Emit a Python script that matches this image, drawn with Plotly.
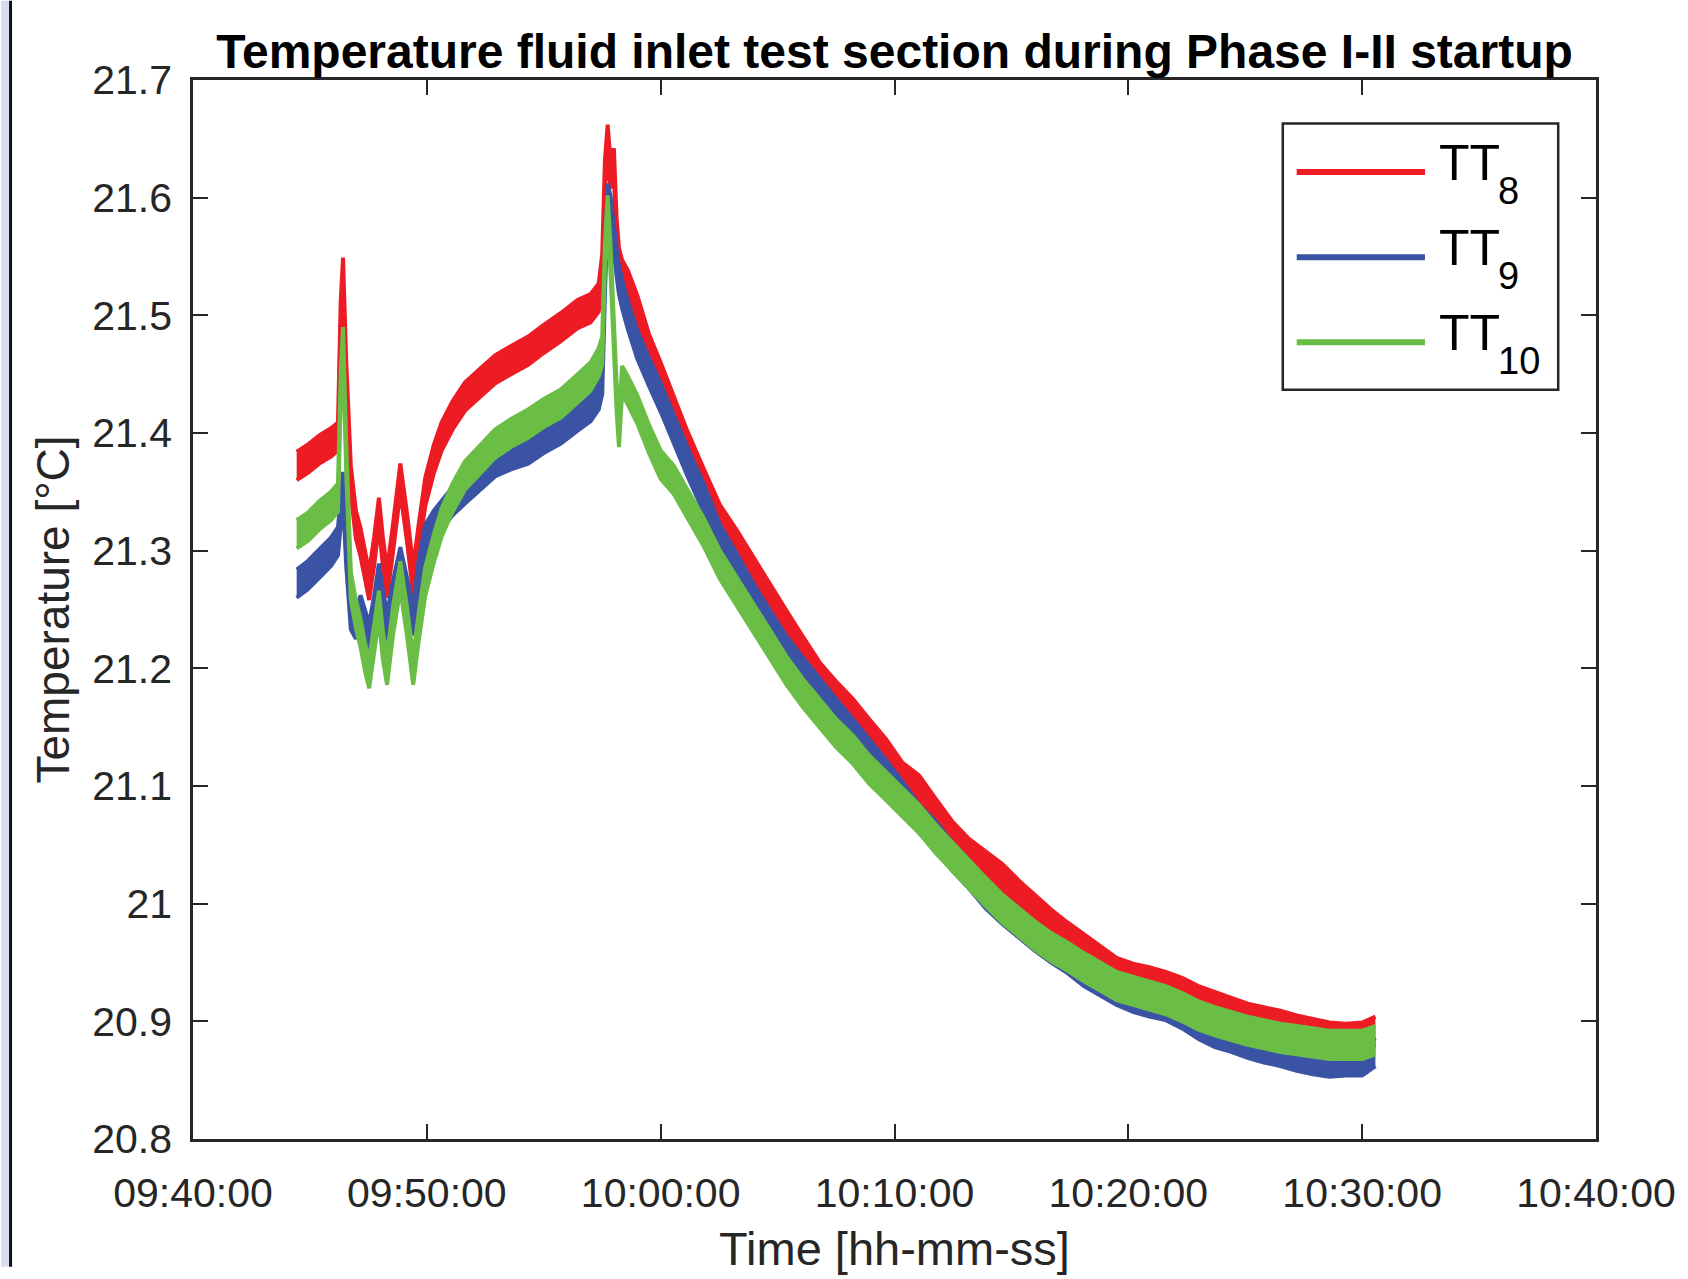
import plotly.graph_objects as go
import pandas as pd

# ---------------- data ----------------
time_labels = [
    "09:44:26", "09:44:54", "09:45:24", "09:45:54", "09:46:12", "09:46:19", "09:46:25", "09:46:33",
    "09:46:45", "09:46:58", "09:47:10", "09:47:21", "09:47:32", "09:47:45", "09:47:57", "09:48:07",
    "09:48:18", "09:48:33", "09:48:52", "09:49:09", "09:49:25", "09:49:39", "09:49:56", "09:50:18",
    "09:50:38", "09:51:06", "09:51:38", "09:52:18", "09:52:55", "09:53:36", "09:54:20", "09:55:00",
    "09:55:44", "09:56:27", "09:57:00", "09:57:21", "09:57:30", "09:57:37", "09:57:44", "09:57:51",
    "09:58:00", "09:58:07", "09:58:13", "09:58:21", "09:58:36", "09:59:00", "09:59:30", "10:00:00",
    "10:00:34", "10:01:08", "10:01:50", "10:02:32", "10:03:16", "10:03:58", "10:04:41", "10:05:23",
    "10:06:05", "10:06:48", "10:07:30", "10:08:13", "10:08:55", "10:09:38", "10:10:20", "10:11:03",
    "10:11:46", "10:12:28", "10:13:11", "10:13:54", "10:14:36", "10:15:18", "10:16:00", "10:16:42",
    "10:17:24", "10:18:06", "10:18:48", "10:19:30", "10:20:12", "10:20:54", "10:21:36", "10:22:18",
    "10:23:00", "10:23:42", "10:24:24", "10:25:06", "10:25:48", "10:26:30", "10:27:12", "10:27:54",
    "10:28:36", "10:29:18", "10:30:00", "10:30:34",
]

tt8 = [
    21.372, 21.378, 21.386, 21.392, 21.397, 21.500, 21.537, 21.450,
    21.360, 21.322, 21.307, 21.290, 21.270, 21.300, 21.333, 21.300,
    21.272, 21.310, 21.362, 21.320, 21.275, 21.310, 21.350, 21.378,
    21.397, 21.415, 21.431, 21.443, 21.454, 21.462, 21.470, 21.480,
    21.490, 21.501, 21.506, 21.515, 21.540, 21.620, 21.650, 21.620,
    21.630, 21.570, 21.545, 21.535, 21.526, 21.505, 21.472, 21.448,
    21.420, 21.390, 21.358, 21.327, 21.305, 21.282, 21.260, 21.237,
    21.215, 21.193, 21.177, 21.162, 21.145, 21.128, 21.108, 21.097,
    21.077, 21.058, 21.043, 21.032, 21.022, 21.008, 20.995, 20.983,
    20.972, 20.962, 20.952, 20.942, 20.937, 20.934, 20.930, 20.925,
    20.918, 20.913, 20.908, 20.903, 20.900, 20.897, 20.893, 20.890,
    20.887, 20.886, 20.887, 20.892,
]

tt9 = [
    21.272, 21.279, 21.289, 21.299, 21.308, 21.330, 21.355, 21.300,
    21.245, 21.237, 21.250, 21.238, 21.226, 21.250, 21.277, 21.255,
    21.235, 21.262, 21.291, 21.265, 21.240, 21.280, 21.310, 21.322,
    21.330, 21.342, 21.352, 21.364, 21.375, 21.381, 21.386, 21.395,
    21.403, 21.414, 21.422, 21.432, 21.445, 21.530, 21.600, 21.590,
    21.560, 21.545, 21.530, 21.518, 21.500, 21.475, 21.452, 21.430,
    21.403, 21.376, 21.345, 21.310, 21.285, 21.260, 21.237, 21.215,
    21.197, 21.179, 21.162, 21.145, 21.128, 21.110, 21.092, 21.072,
    21.058, 21.040, 21.025, 21.008, 20.995, 20.983, 20.972, 20.962,
    20.953, 20.942, 20.934, 20.926, 20.920, 20.916, 20.913, 20.906,
    20.897, 20.890, 20.886, 20.881, 20.877, 20.874, 20.870, 20.867,
    20.865, 20.866, 20.866, 20.874,
]

tt10 = [
    21.314, 21.320, 21.330, 21.338, 21.345, 21.440, 21.478, 21.380,
    21.270, 21.246, 21.230, 21.210, 21.195, 21.225, 21.254, 21.220,
    21.198, 21.240, 21.279, 21.240, 21.198, 21.235, 21.274, 21.302,
    21.324, 21.345, 21.364, 21.378, 21.391, 21.400, 21.408, 21.417,
    21.425, 21.438, 21.448, 21.460, 21.470, 21.550, 21.590, 21.550,
    21.480, 21.430, 21.400, 21.445, 21.436, 21.420, 21.395, 21.373,
    21.360, 21.341, 21.316, 21.288, 21.265, 21.243, 21.221, 21.198,
    21.179, 21.162, 21.145, 21.131, 21.114, 21.100, 21.086, 21.072,
    21.055, 21.040, 21.025, 21.010, 20.996, 20.984, 20.973, 20.963,
    20.955, 20.946, 20.938, 20.930, 20.926, 20.922, 20.918, 20.912,
    20.905, 20.900, 20.896, 20.892, 20.889, 20.886, 20.884, 20.882,
    20.880, 20.880, 20.880, 20.884,
]

series_base = ["TT", "TT", "TT"]
series_sub = ["8", "9", "10"]
x_tick_labels = ["09:40:00", "09:50:00", "10:00:00", "10:10:00", "10:20:00", "10:30:00", "10:40:00"]
y_tick_values = [20.8, 20.9, 21.0, 21.1, 21.2, 21.3, 21.4, 21.5, 21.6, 21.7]
y_tick_labels = ["20.8", "20.9", "21", "21.1", "21.2", "21.3", "21.4", "21.5", "21.6", "21.7"]

# ---------------- styling ----------------
W, H = 1688, 1279
ML, MR, MT, MB = 193, 84, 80, 129
PW, PH = W - ML - MR, H - MT - MB
COLORS = ["#ED1C24", "#3A53A4", "#6ABD45"]
BAND = 0.012          # half thickness of the noisy trace band (visual stroke)
EDGE_W = 4
AX = "#262626"
FONT = "Liberation Sans, Arial, Helvetica, sans-serif"
DAY = "2000-01-01 "

t = pd.to_datetime([DAY + s for s in time_labels])
x_ticks = pd.to_datetime([DAY + s for s in x_tick_labels])

fig = go.Figure()
for base, sub, vals, col in zip(series_base, series_sub, [tt8, tt9, tt10], COLORS):
    name = f"{base}<sub>{sub}</sub>"
    lo = [v - BAND for v in vals]
    hi = [v + BAND for v in vals]
    fig.add_trace(go.Scatter(x=t, y=lo, mode="lines", line=dict(color=col, width=EDGE_W),
                             name=name, showlegend=False, hoverinfo="skip"))
    fig.add_trace(go.Scatter(x=t, y=hi, mode="lines", line=dict(color=col, width=EDGE_W),
                             fill="tonexty", fillcolor=col, name=name, showlegend=False))


def px_x(p):
    return (p - ML) / PW


def px_y(p):
    return (H - MB - p) / PH


shapes = [
    # light blue strip and dark edge at the left border of the picture
    dict(type="rect", xref="paper", yref="paper", x0=px_x(0), x1=px_x(8), y0=px_y(H), y1=px_y(0),
         fillcolor="#D5DDEE", line=dict(width=0), layer="above"),
    dict(type="rect", xref="paper", yref="paper", x0=px_x(8), x1=px_x(11), y0=px_y(H), y1=px_y(0),
         fillcolor="#111111", line=dict(width=0), layer="above"),
    # legend box
    dict(type="rect", xref="paper", yref="paper", x0=px_x(1289), x1=px_x(1566), y0=px_y(393), y1=px_y(124),
         fillcolor="white", line=dict(color=AX, width=2.5), layer="above"),
]
annotations = []
row_y = [173, 259, 345]
for base, sub, col, ry in zip(series_base, series_sub, COLORS, row_y):
    shapes.append(dict(type="line", xref="paper", yref="paper", x0=px_x(1303), x1=px_x(1432),
                       y0=px_y(ry), y1=px_y(ry), line=dict(color=col, width=6), layer="above"))
    annotations.append(dict(xref="paper", yref="paper", x=px_x(1444), y=px_y(ry - 9), text=base,
                            showarrow=False, xanchor="left", yanchor="middle",
                            font=dict(family=FONT, size=50, color="black")))
    annotations.append(dict(xref="paper", yref="paper", x=px_x(1503), y=px_y(ry + 19), text=sub,
                            showarrow=False, xanchor="left", yanchor="middle",
                            font=dict(family=FONT, size=38, color="black")))

fig.update_layout(
    width=W, height=H,
    margin=dict(l=ML, r=MR, t=MT, b=MB, pad=0),
    paper_bgcolor="white", plot_bgcolor="white",
    showlegend=False,
    font=dict(family=FONT, color=AX),
    title=dict(text="<b>Temperature fluid inlet test section during Phase I-II startup</b>",
               x=px_x((ML + W - MR) / 2), xref="paper", xanchor="center",
               y=1 - 51 / H, yref="container", yanchor="middle",
               font=dict(family=FONT, size=48, color="black")),
    shapes=shapes,
    annotations=annotations,
)
fig.update_xaxes(
    type="date", range=[x_ticks[0], x_ticks[-1]],
    tickvals=x_ticks, ticktext=x_tick_labels,
    ticks="inside", ticklen=15, tickwidth=2, tickcolor=AX,
    showline=True, linecolor=AX, linewidth=2.5, mirror="ticks",
    showgrid=False, zeroline=False,
    tickfont=dict(family=FONT, size=41, color=AX),
    ticklabelstandoff=16,
    title=dict(text="Time [hh-mm-ss]", font=dict(family=FONT, size=47, color=AX), standoff=18),
)
fig.update_yaxes(
    range=[20.8, 21.7], tickvals=y_tick_values, ticktext=y_tick_labels,
    ticks="inside", ticklen=15, tickwidth=2, tickcolor=AX,
    showline=True, linecolor=AX, linewidth=2.5, mirror="ticks",
    showgrid=False, zeroline=False,
    tickfont=dict(family=FONT, size=41, color=AX),
    ticklabelstandoff=10,
    title=dict(text="Temperature [°C]", font=dict(family=FONT, size=46, color=AX), standoff=9),
)

fig.write_html("out.html", config={"displayModeBar": False},
               post_script="document.body.style.margin='0';document.body.style.overflow='hidden';")
